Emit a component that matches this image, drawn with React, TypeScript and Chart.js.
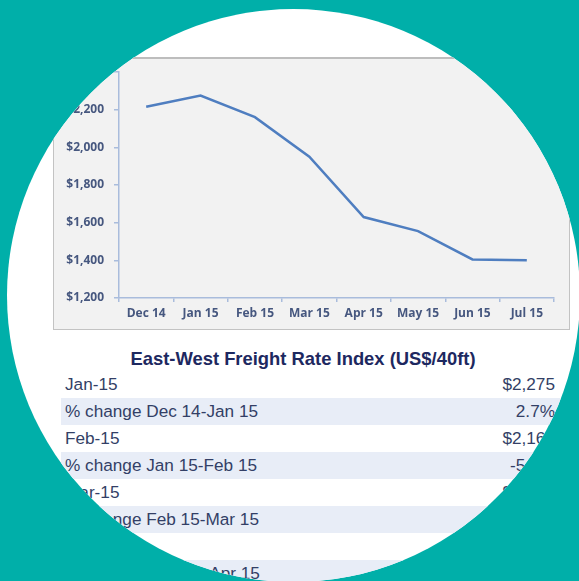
import React, { useEffect, useRef } from "react";
import { Chart, registerables } from "chart.js";

Chart.register(...registerables);

const months = ["Dec 14", "Jan 15", "Feb 15", "Mar 15", "Apr 15", "May 15", "Jun 15", "Jul 15"];
const rates = [2215, 2275, 2160, 1950, 1630, 1555, 1405, 1400];
const yMin = 1200;
const yMax = 2400;
const yStep = 200;

const tableTitle = "East-West Freight Rate Index (US$/40ft)";
const rowLabels = [
  "Jan-15",
  "% change Dec 14-Jan 15",
  "Feb-15",
  "% change Jan 15-Feb 15",
  "Mar-15",
  "% change Feb 15-Mar 15",
  "Apr-15",
  "% change Mar 15- Apr 15",
];
const rowValues = ["$2,275", "2.7%", "$2,160", "-5.1%", "$1,950", "-9.7%", "$1,630", "-16.4%"];

const TEAL = "#00AFA9";
const AXIS = "#A9BCDC";
const LABEL = "#46577F";

function LineChart() {
  const ref = useRef<HTMLCanvasElement | null>(null);
  useEffect(() => {
    if (!ref.current) return;
    const chart = new Chart(ref.current, {
      type: "line",
      data: {
        labels: months,
        datasets: [
          {
            data: rates,
            borderColor: "#4F7EC0",
            borderWidth: 2.5,
            pointRadius: 0,
            tension: 0,
            fill: false,
          },
        ],
      },
      options: {
        animation: false,
        responsive: false,
        maintainAspectRatio: false,
        plugins: { legend: { display: false }, tooltip: { enabled: false } },
        layout: { padding: { top: 14, right: 15, left: 0, bottom: 0 } },
        scales: {
          x: {
            type: "category",
            offset: true,
            grid: {
              offset: true,
              drawOnChartArea: false,
              drawTicks: true,
              tickLength: 4,
              color: AXIS,
              lineWidth: 1.5,
            },
            border: { color: AXIS, width: 1.5 },
            ticks: {
              color: LABEL,
              padding: 4,
              maxRotation: 0,
              font: { family: "Open Sans", size: 12, weight: "bold" },
            },
            afterFit: (s: any) => {
              s.height = 31;
              s.paddingLeft = 0;
              s.paddingRight = 0;
            },
          },
          y: {
            min: yMin,
            max: yMax,
            grid: {
              drawOnChartArea: false,
              drawTicks: true,
              tickLength: 5,
              color: AXIS,
              lineWidth: 1.5,
            },
            border: { color: AXIS, width: 1.5 },
            ticks: {
              stepSize: yStep,
              color: LABEL,
              padding: 10,
              font: { family: "Open Sans", size: 12, weight: "bold" },
              callback: (v: any) => "$" + Number(v).toLocaleString("en-US"),
            },
            afterFit: (s: any) => {
              s.width = 65;
              s.paddingTop = 0;
              s.paddingBottom = 0;
            },
          },
        },
      },
    });
    return () => chart.destroy();
  }, []);
  return <canvas ref={ref} width={515} height={271} style={{ display: "block" }} />;
}

export default function App() {
  const rowH = 27;
  const rowTop = 371;
  return (
    <div
      style={{
        position: "fixed",
        left: 0,
        top: 0,
        width: 579,
        height: 581,
        background: TEAL,
        overflow: "hidden",
      }}
    >
      <div
        style={{
          position: "absolute",
          left: 7,
          top: 9,
          width: 573,
          height: 573,
          borderRadius: "50%",
          overflow: "hidden",
          background: "#FFFFFF",
        }}
      >
        <div style={{ position: "absolute", left: -7, top: -9, width: 579, height: 581 }}>
          <div
            style={{
              position: "absolute",
              left: 53,
              top: 57,
              width: 517,
              height: 273,
              boxSizing: "border-box",
              border: "1px solid #C3C3C3",
              borderTop: "2px solid #BDBDBD",
              background: "#F2F2F2",
            }}
          >
            <div style={{ position: "absolute", left: 0, top: -1 }}>
              <LineChart />
            </div>
          </div>
          <div
            style={{
              position: "absolute",
              left: 61,
              top: 346,
              width: 484,
              textAlign: "center",
              fontFamily: "Liberation Sans, Arial, sans-serif",
              fontWeight: "bold",
              fontSize: 18.4,
              color: "#1D2860",
              lineHeight: "26px",
              whiteSpace: "nowrap",
            }}
          >
            {tableTitle}
          </div>
          {rowLabels.map((lab, i) => (
            <div
              key={i}
              style={{
                position: "absolute",
                left: 61,
                top: rowTop + i * rowH,
                width: 500,
                height: rowH,
                background: i % 2 === 1 ? "#E8EDF7" : "transparent",
                fontFamily: "Liberation Sans, Arial, sans-serif",
                fontSize: 17.2,
                color: "#333F66",
                lineHeight: rowH + "px",
              }}
            >
              <span style={{ position: "absolute", left: 4, top: 0, whiteSpace: "nowrap" }}>{lab}</span>
              <span style={{ position: "absolute", right: 6, top: 0, whiteSpace: "nowrap" }}>
                {rowValues[i]}
              </span>
            </div>
          ))}
        </div>
      </div>
    </div>
  );
}
